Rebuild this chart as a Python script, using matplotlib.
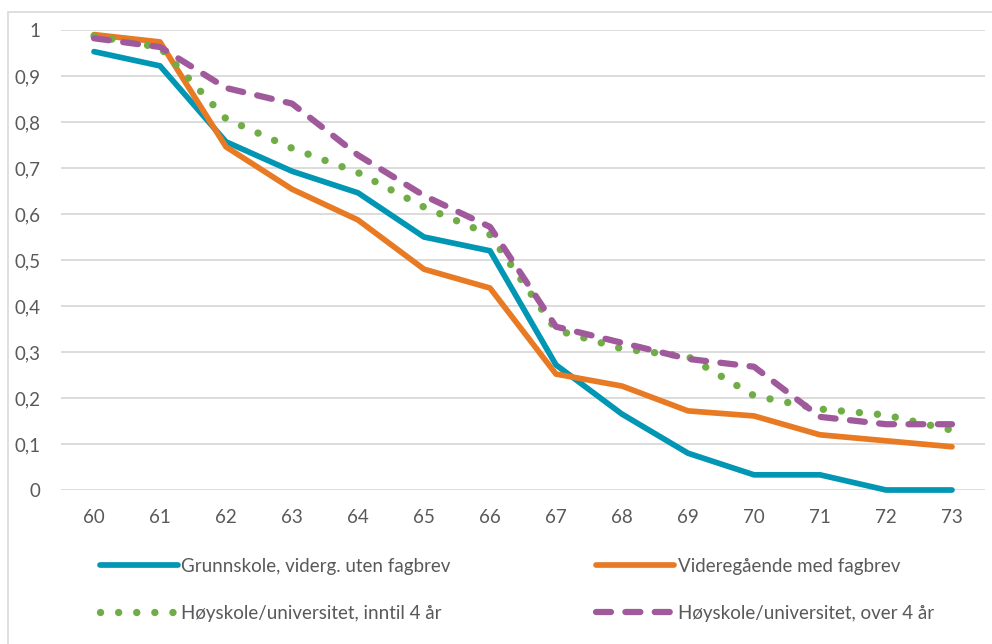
import numpy as np
import matplotlib.pyplot as plt
from matplotlib.patches import Rectangle
from matplotlib.ticker import FuncFormatter

plt.rcParams['font.family'] = ['Lato', 'DejaVu Sans']

ages = [60, 61, 62, 63, 64, 65, 66, 67, 68, 69, 70, 71, 72, 73]
grunnskole = [0.953, 0.922, 0.757, 0.693, 0.646, 0.55, 0.52, 0.272, 0.165, 0.08, 0.033, 0.033, 0.0, 0.0]
fagbrev = [0.99, 0.974, 0.746, 0.654, 0.587, 0.48, 0.439, 0.252, 0.226, 0.172, 0.161, 0.12, 0.107, 0.094]
hoy_kort = [0.987, 0.962, 0.807, 0.743, 0.69, 0.615, 0.555, 0.348, 0.307, 0.29, 0.205, 0.176, 0.163, 0.13]
hoy_lang = [0.982, 0.963, 0.874, 0.84, 0.728, 0.64, 0.572, 0.355, 0.32, 0.285, 0.268, 0.159, 0.143, 0.143]

labels = ['Grunnskole, viderg. uten fagbrev', 'Videregående med fagbrev',
          'Høyskole/universitet, inntil 4 år', 'Høyskole/universitet, over 4 år']

fig = plt.figure(figsize=(9.92, 6.44), dpi=100)
ax = fig.add_axes([61 / 992, 1 - 490 / 644, 924 / 992, 460 / 644])

lw = 4.1
l1, = ax.plot(ages, grunnskole, color='#0096b4', lw=lw, solid_capstyle='round',
              solid_joinstyle='round', label=labels[0], clip_on=False)
l2, = ax.plot(ages, fagbrev, color='#e97a24', lw=lw, solid_capstyle='round',
              solid_joinstyle='round', label=labels[1], clip_on=False)
l3, = ax.plot(ages, hoy_kort, color='#70ad47', lw=lw + 1.2, linestyle=(0, (0.01, 2.45)),
              dash_capstyle='round', label=labels[2], clip_on=False)
l4, = ax.plot(ages, hoy_lang, color='#a05a9c', lw=lw + 0.4, linestyle=(0, (2.4, 2.3)),
              dash_capstyle='round', label=labels[3], clip_on=False)

ax.set_xlim(59.5, 73.5)
ax.set_ylim(0, 1)
ax.set_xticks(ages)
ax.set_yticks(np.arange(0, 1.01, 0.1))
ax.yaxis.set_major_formatter(FuncFormatter(
    lambda v, p: '0' if abs(v) < 1e-9 else ('1' if abs(v - 1) < 1e-9 else f'{v:.1f}'.replace('.', ','))))
ax.grid(axis='y', color='#d9d9d9', lw=1.3)
ax.set_axisbelow(True)
for s in ax.spines.values():
    s.set_visible(False)
ax.tick_params(length=0, labelsize=13.5, colors='#595959')
ax.tick_params(axis='y', pad=15)
ax.tick_params(axis='x', pad=14)

# outer chart frame
fig.patches.append(Rectangle((8 / 992, -0.1), 1.2, 1 - 12 / 644 + 0.1,
                             transform=fig.transFigure, fill=False,
                             edgecolor='#d9d9d9', lw=1.2))

# row-wise legend order: two entries per row
leg = fig.legend([l1, l3, l2, l4], [labels[0], labels[2], labels[1], labels[3]],
                 loc='upper left', bbox_to_anchor=(83 / 992, 1 - 541 / 644), ncol=2,
                 frameon=False, fontsize=13.5, handlelength=4.15, handletextpad=0.2,
                 columnspacing=7.75, labelspacing=1.6, labelcolor='#595959')

fig.savefig('out.png', dpi=100)
